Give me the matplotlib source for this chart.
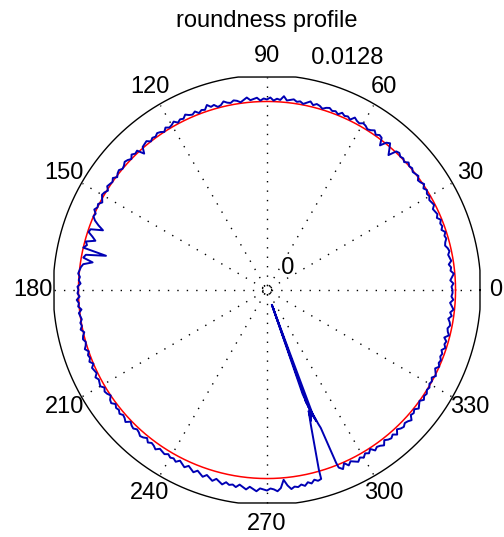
import numpy as np
import matplotlib
matplotlib.use("Agg")
import matplotlib.pyplot as plt

plt.rcParams["font.family"] = ["Liberation Sans", "DejaVu Sans"]

# ── data ─────────────────────────────────────────────────────────────────────
rmax = 0.0128            # outer ring value
fit_r = 0.01133          # radius of the fitted (red) circle

# measured profile: deviation from the fitted circle, units of 1e-5,
# one value per degree from 0 to 359
profile_deg = np.arange(0, 360)
profile_dev = [
    -18, -24, -12, -30, -18, -6, -24, -18, -30, -12,      # 0
    -18, -24, -12, -18, -30, -24, -12, -18, -6, -24,      # 10
    -12, -18, -6, -24, -12, -18, -24, -6, -12, -18,       # 20
    -6, -12, 0, -12, 6, -6, -12, 6, 0, -6,                # 30
    6, 0, 12, -6, 6, 0, 12, 6, -42, -12,                  # 40
    18, 6, -30, 12, 18, 6, 24, 12, 6, 18,                 # 50
    24, 12, 18, 30, 6, 18, 12, 24, 6, 18,                 # 60
    12, 24, 18, 6, 18, 24, 12, 30, 18, 6,                 # 70
    18, 12, 24, 18, 12, 36, 12, 18, 6, 24,                # 80
    12, 18, 6, 24, 18, 12, 30, 18, 6, 18,                 # 90
    24, 12, 18, 30, 12, 6, 24, 18, 36, 12,                # 100
    18, 6, 24, 12, 18, 30, 12, 18, 6, 24,                 # 110
    12, 6, 18, 0, 12, 18, 6, 12, 0, 18,                   # 120
    12, 6, -30, 12, 6, 18, 0, 12, 18, 6,                  # 130
    0, 12, 6, -6, 12, 0, 6, 12, -6, 6,                    # 140
    12, 0, -12, 6, 0, 12, -6, 0, -18, -48,                # 150
    -84, -12, -6, -36, -60, -6, -18, 0, -144, -24,        # 160
    -12, -72, -18, -6, 0, 6, -6, 0, -12, 6,               # 170
    0, 6, -6, 12, 0, 6, -12, 6, 0, -6,                    # 180
    6, 0, 12, -6, 6, 12, 0, 6, 18, 0,                     # 190
    12, 6, 18, 0, 18, 12, 6, 24, 12, 18,                  # 200
    24, 6, 18, 12, 0, 18, 24, 6, 18, 12,                  # 210
    24, 12, 18, 30, 6, 18, 24, 12, 18, 30,                # 220
    24, 12, 30, 18, 24, 36, 18, 24, 30, 18,               # 230
    30, 24, 36, 18, 30, 42, 24, 36, 48, 30,               # 240
    42, 54, 36, 48, 60, 42, 54, 66, 48, 60,               # 250
    54, 66, 48, 60, 72, 54, 66, 78, 60, 66,               # 260
    72, 60, 66, 78, 60, 12, 48, 72, 60, 66,               # 270
    54, 66, 48, 60, 42, 54, 48, 36, 42, 30,               # 280
    36, 24, 18, 36, 6, 30, 12, 24, 36, 18,                # 290
    30, 12, 24, 6, 30, 18, 24, 36, 12, 24,                # 300
    30, 18, 36, 12, 24, 30, 18, 24, 36, 12,               # 310
    18, 6, 24, 12, 0, 18, 6, 12, 0, 6,                    # 320
    -6, 0, -12, 6, -6, -18, 0, -12, -6, -18,              # 330
    -12, -24, -6, -18, -12, -30, -6, -18, -24, -12,       # 340
    -18, -30, -12, -24, -6, -18, -30, -12, -24, -18,      # 350
]

# start of the record: probe coming in from near the centre
head_deg = [288.4, 289.4, 288.5, 290.2, 289.1, 290.6, 289.6, 291.0, 291.3, 291.8]
head_r = [0.00096, 0.00721, 0.00108, 0.00817, 0.00697, 0.00841, 0.00745, 0.00865,
          0.00889, 0.01118]
# end of the record: probe going back to the centre
tail_deg = [286.1, 288.0, 289.0, 288.6, 289.8, 288.9, 288.5, 288.4]
tail_r = [0.01124, 0.00853, 0.00769, 0.00829, 0.00781, 0.00661, 0.00102, 0.00096]

profile_first = 292   # profile runs from 292 deg round to 286 deg
profile_last = 286

angle_ticks = [0, 30, 60, 90, 120, 150, 180, 210, 240, 270, 300, 330]
ring_values = [0, rmax]

# ── build the record in plotting order ───────────────────────────────────────
prof_r = fit_r + np.array(profile_dev) * 1e-5
order = np.r_[np.where(profile_deg >= profile_first)[0],
              np.where(profile_deg <= profile_last)[0]]
th = np.deg2rad(np.r_[head_deg, profile_deg[order], tail_deg])
rr = np.r_[head_r, prof_r[order], tail_r]

# ── figure ────────────────────────────────────────────────────────────────────
fig = plt.figure(figsize=(5.04, 5.37), dpi=100)
ax = fig.add_axes([0, 0, 1, 1])
ax.set_xlim(-1.2535 * rmax, 1.1127 * rmax)
ax.set_ylim(-1.1596 * rmax, 1.3615 * rmax)
ax.axis("off")

# outer ring, slightly flattened at 0/90/180/270 like the original
t = np.linspace(0, 2 * np.pi, 1441)
ox = np.clip(1.004 * rmax * np.cos(t), -rmax, rmax)
oy = np.clip(1.009 * rmax * np.sin(t), -rmax, rmax)
ax.plot(ox, oy, color="black", lw=1.0)

# spokes
for a in angle_ticks[:6]:
    c, s = np.cos(np.deg2rad(a)), np.sin(np.deg2rad(a))
    ax.plot([-rmax * c, rmax * c], [-rmax * s, rmax * s], color="black",
            lw=1.0, linestyle=(0, (1.0, 5.8)), dash_capstyle="butt")

# tiny inner ring
ax.plot(0.022 * rmax * np.cos(t), 0.022 * rmax * np.sin(t), color="black",
        lw=0.9, linestyle=(0, (1.0, 1.5)))

# angle labels
for a in angle_ticks:
    rt = 1.075 * rmax if a == 0 else 1.1 * rmax
    ax.text(rt * np.cos(np.deg2rad(a)), rt * np.sin(np.deg2rad(a)),
            str(a), ha="center", va="center", fontsize=17)

# ring labels (placed at 82 deg like matlab's polar)
for v in ring_values:
    rl = v + rmax / 20
    lab = "0" if v == 0 else f"{v:g}"
    ax.text(rl * np.cos(np.deg2rad(82)), rl * np.sin(np.deg2rad(82)), "  " + lab,
            ha="left", va="bottom", fontsize=17)

# fitted circle and measured profile
ax.plot(fit_r * np.cos(t), fit_r * np.sin(t), color="red", lw=1.1)
ax.plot(rr * np.cos(th), rr * np.sin(th), color="#0000b4", lw=1.4)

ax.text(0, 1.2347 * rmax, "roundness profile", ha="center", va="baseline",
        fontsize=17)

fig.savefig("out.png", dpi=100)
